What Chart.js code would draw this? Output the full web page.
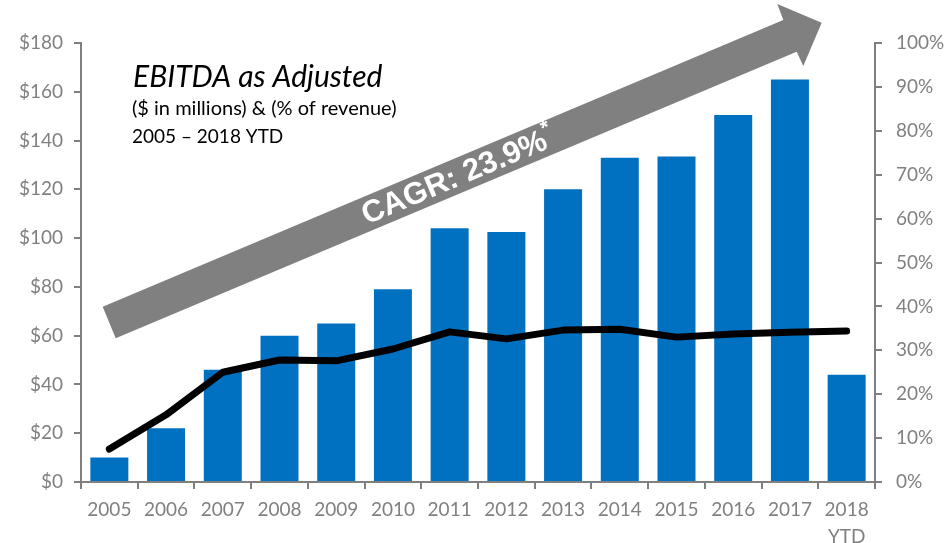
<!DOCTYPE html>
<html>
<head>
<meta charset="utf-8">
<script src="https://cdn.jsdelivr.net/npm/chart.js@4.4.1/dist/chart.umd.min.js"></script>
<style>
  html, body { margin: 0; padding: 0; background: #fff; }
  #wrap { width: 947px; height: 543px; }
</style>
</head>
<body>
<div id="wrap"><canvas id="myChart" width="947" height="543"></canvas></div>
<script>
const years = ['2005', '2006', '2007', '2008', '2009', '2010', '2011', '2012', '2013', '2014', '2015', '2016', '2017', ['2018', 'YTD']]
const ebitda = [10, 22, 46, 60, 65, 79, 104, 102.5, 120, 133, 133.5, 150.5, 165, 44]
const marginPct = [7.5, 15.3, 25, 27.8, 27.6, 30.3, 34.2, 32.6, 34.6, 34.8, 33, 33.7, 34.1, 34.4]
const dollarTicks = [0, 20, 40, 60, 80, 100, 120, 140, 160, 180]
const pctTicks = [0, 10, 20, 30, 40, 50, 60, 70, 80, 90, 100]

const gray = '#808080'
const tickFont = { family: 'Lato', size: 19, lineHeight: 1.4 }

// grey CAGR arrow and the title block
const decor = {
  id: 'decor',
  beforeDatasetsDraw (chart) {
    const c = chart.ctx
    c.save()
    c.fillStyle = '#808080'
    c.beginPath()
    c.moveTo(102.7, 306.7)
    c.lineTo(783.3, 20)
    c.lineTo(777.3, 4)
    c.lineTo(821.7, 22.7)
    c.lineTo(803.3, 66)
    c.lineTo(796.7, 51.7)
    c.lineTo(115.7, 338.3)
    c.closePath()
    c.fill()

    c.translate(458, 176)
    c.rotate(Math.atan2(-299.8, 712.5))
    c.fillStyle = '#fff'
    c.textBaseline = 'middle'
    c.textAlign = 'left'
    const main = 'CAGR: 23.9%'
    c.font = 'bold 31px "Liberation Sans"'
    const w1 = c.measureText(main).width
    c.font = 'bold 21px "Liberation Sans"'
    const w2 = c.measureText('*').width
    const x0 = -(w1 + w2) / 2
    c.font = 'bold 31px "Liberation Sans"'
    c.fillText(main, x0, 1)
    c.font = 'bold 21px "Liberation Sans"'
    c.fillText('*', x0 + w1, -10)
    c.restore()

    c.save()
    c.fillStyle = '#000'
    c.textAlign = 'left'
    c.textBaseline = 'alphabetic'
    c.font = 'italic 30px Lato'
    c.fillText('EBITDA as Adjusted', 133, 87)
    c.font = '20px Lato'
    c.fillText('($ in millions) & (% of revenue)', 132, 115)
    c.font = '19px Lato'
    c.fillText('2005 \u2013 2018 YTD', 132, 143)
    c.restore()
  }
}

new Chart(document.getElementById('myChart'), {
  type: 'bar',
  data: {
    labels: years,
    datasets: [
      {
        type: 'line',
        data: marginPct,
        yAxisID: 'y1',
        borderColor: '#000',
        borderWidth: 7,
        borderCapStyle: 'round',
        borderJoinStyle: 'round',
        pointRadius: 0,
        tension: 0,
        order: 0
      },
      {
        data: ebitda,
        yAxisID: 'y',
        backgroundColor: '#0070C0',
        categoryPercentage: 1,
        barPercentage: 0.67,
        order: 1
      }
    ]
  },
  options: {
    responsive: false,
    animation: false,
    layout: { padding: { top: 43, left: 0, right: 0, bottom: 0 } },
    plugins: {
      legend: { display: false },
      tooltip: { enabled: false }
    },
    scales: {
      x: {
        grid: { display: true, drawOnChartArea: false, color: gray, lineWidth: 2, tickLength: 7, offset: true },
        border: { color: gray, width: 2 },
        ticks: { color: gray, font: tickFont, padding: 8, maxRotation: 0 },
        afterFit (s) { s.height = 61 }
      },
      y: {
        position: 'left',
        min: 0,
        max: 180,
        afterBuildTicks (s) { s.ticks = dollarTicks.map(v => ({ value: v })) },
        grid: { drawOnChartArea: false, color: gray, lineWidth: 2, tickLength: 7 },
        border: { color: gray, width: 2 },
        ticks: { color: gray, font: tickFont, padding: 11, callback: v => '$' + v },
        afterFit (s) { s.width = 81 }
      },
      y1: {
        position: 'right',
        min: 0,
        max: 100,
        afterBuildTicks (s) { s.ticks = pctTicks.map(v => ({ value: v })) },
        grid: { drawOnChartArea: false, color: gray, lineWidth: 2, tickLength: 7 },
        border: { color: gray, width: 2 },
        ticks: { color: gray, font: tickFont, padding: 14, callback: v => v + '%' },
        afterFit (s) { s.width = 72 }
      }
    }
  },
  plugins: [decor]
})
</script>
</body>
</html>
